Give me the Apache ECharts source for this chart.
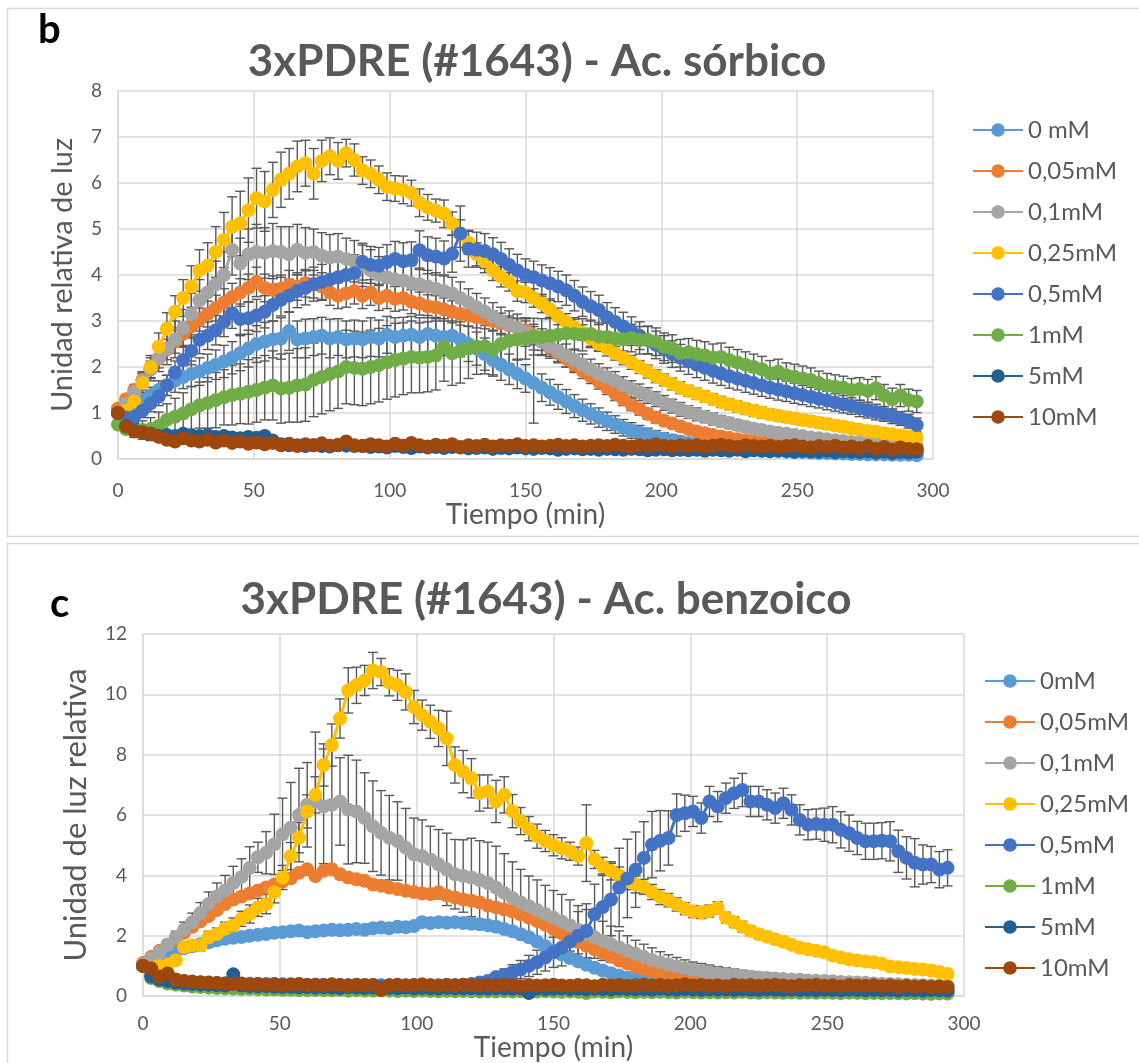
<!DOCTYPE html>
<html><head><meta charset="utf-8">
<script src="https://cdn.jsdelivr.net/npm/echarts@6/dist/echarts.min.js"></script>
<style>html,body{margin:0;padding:0;background:#fff}#c{width:1139px;height:1063px}</style>
</head><body><div id="c"></div>
<script>
const minutes = [0,3,6,9,12,15,18,21,24,27,30,33,36,39,42,45,48,51,54,57,60,63,66,69,72,75,78,81,84,87,90,93,96,99,102,105,108,111,114,117,120,123,126,129,132,135,138,141,144,147,150,153,156,159,162,165,168,171,174,177,180,183,186,189,192,195,198,201,204,207,210,213,216,219,222,225,228,231,234,237,240,243,246,249,252,255,258,261,264,267,270,273,276,279,282,285,288,291,294];
const xTicks = [0,50,100,150,200,250,300];
const sorbNames = ['0 mM','0,05mM','0,1mM','0,25mM','0,5mM','1mM','5mM','10mM'];
const benzNames = ['0mM','0,05mM','0,1mM','0,25mM','0,5mM','1mM','5mM','10mM'];
const colors = ['#5B9BD5','#ED7D31','#A5A5A5','#FFC000','#4472C4','#70AD47','#255E91','#9E480E'];

// ---- Panel b: Ac. sórbico ----
const sorb_0 = [1.0,1.1,1.2,1.28,1.38,1.5,1.6,1.7,1.78,1.85,
 1.9,1.98,2.05,2.12,2.2,2.3,2.4,2.5,2.55,2.6,
 2.62,2.78,2.6,2.62,2.65,2.68,2.62,2.65,2.6,2.62,
 2.6,2.65,2.62,2.7,2.65,2.68,2.7,2.65,2.72,2.68,
 2.65,2.68,2.6,2.5,2.4,2.28,2.15,2.05,1.95,1.85,
 1.75,1.65,1.55,1.45,1.35,1.25,1.15,1.06,0.98,0.9,
 0.82,0.75,0.68,0.62,0.57,0.52,0.48,0.44,0.41,0.38,
 0.35,0.32,0.3,0.28,0.26,0.24,0.22,0.21,0.2,0.19,
 0.18,0.17,0.16,0.15,0.15,0.14,0.13,0.13,0.12,0.12,
 0.11,0.11,0.1,0.1,0.1,0.09,0.09,0.09,0.08];
const sorb_005 = [1.1,1.3,1.5,1.72,1.95,2.18,2.38,2.55,2.72,2.88,
 3.03,3.15,3.28,3.4,3.52,3.62,3.72,3.85,3.72,3.68,
 3.7,3.78,3.75,3.82,3.8,3.75,3.62,3.55,3.6,3.65,
 3.55,3.62,3.5,3.55,3.48,3.5,3.42,3.38,3.32,3.3,
 3.25,3.2,3.15,3.12,3.08,3.05,3.0,2.95,2.9,2.85,
 2.8,2.68,2.55,2.42,2.3,2.18,2.05,1.92,1.8,1.68,
 1.55,1.42,1.3,1.18,1.08,0.98,0.9,0.83,0.77,0.71,
 0.65,0.6,0.56,0.52,0.49,0.46,0.43,0.41,0.39,0.37,
 0.35,0.34,0.33,0.32,0.31,0.3,0.29,0.28,0.27,0.27,
 0.26,0.25,0.25,0.24,0.24,0.23,0.23,0.22,0.22];
const sorb_01 = [1.0,1.2,1.45,1.7,1.95,2.2,2.4,2.6,2.85,3.15,
 3.45,3.62,3.8,4.0,4.55,4.25,4.45,4.5,4.48,4.52,
 4.5,4.45,4.55,4.48,4.5,4.42,4.38,4.4,4.35,4.3,
 4.2,4.1,4.0,3.95,3.9,3.88,3.82,3.8,3.75,3.7,
 3.65,3.6,3.5,3.4,3.3,3.2,3.1,3.0,2.92,2.85,
 2.75,2.65,2.55,2.45,2.35,2.25,2.15,2.05,1.95,1.85,
 1.78,1.7,1.6,1.52,1.45,1.38,1.3,1.22,1.15,1.08,
 1.02,0.97,0.92,0.87,0.82,0.78,0.74,0.7,0.66,0.63,
 0.6,0.57,0.55,0.52,0.5,0.47,0.45,0.43,0.41,0.39,
 0.37,0.36,0.34,0.33,0.32,0.31,0.3,0.29,0.28];
const sorb_025 = [1.0,1.05,1.25,1.65,2.0,2.44,2.83,3.2,3.5,3.75,
 4.1,4.2,4.5,4.76,5.05,5.12,5.41,5.67,5.6,5.85,
 6.07,6.2,6.36,6.43,6.2,6.48,6.58,6.48,6.65,6.5,
 6.27,6.2,6.07,5.92,5.88,5.85,5.78,5.57,5.47,5.4,
 5.33,5.12,4.9,4.7,4.45,4.3,4.1,3.96,3.85,3.65,
 3.62,3.5,3.38,3.25,3.1,2.98,2.86,2.75,2.62,2.5,
 2.4,2.3,2.2,2.1,2.0,1.9,1.8,1.72,1.63,1.55,
 1.48,1.42,1.36,1.3,1.24,1.19,1.14,1.09,1.05,1.01,
 0.97,0.94,0.91,0.88,0.85,0.82,0.79,0.76,0.73,0.7,
 0.67,0.64,0.61,0.59,0.56,0.54,0.51,0.49,0.46];
const sorb_05 = [1.0,0.9,0.92,1.05,1.21,1.36,1.6,1.88,2.15,2.35,
 2.59,2.68,2.8,2.98,3.17,3.04,3.06,3.12,3.2,3.35,
 3.46,3.55,3.65,3.72,3.8,3.85,3.9,3.95,4.0,4.04,
 4.29,4.22,4.2,4.28,4.35,4.3,4.32,4.54,4.43,4.4,
 4.36,4.46,4.9,4.57,4.55,4.52,4.45,4.35,4.22,4.1,
 4.0,3.95,3.88,3.82,3.75,3.67,3.55,3.42,3.32,3.24,
 3.08,2.98,2.88,2.78,2.68,2.58,2.48,2.38,2.28,2.2,
 2.12,2.05,1.98,1.92,1.86,1.8,1.75,1.7,1.65,1.6,
 1.55,1.51,1.47,1.43,1.39,1.35,1.31,1.27,1.23,1.19,
 1.15,1.1,1.06,1.02,0.98,0.93,0.88,0.82,0.74];
const sorb_1 = [0.75,0.65,0.62,0.63,0.65,0.72,0.85,0.92,0.99,1.08,
 1.17,1.22,1.28,1.34,1.39,1.42,1.46,1.5,1.55,1.6,
 1.53,1.55,1.6,1.62,1.72,1.78,1.85,1.9,2.0,1.98,
 1.96,2.0,2.04,2.1,2.15,2.18,2.22,2.2,2.22,2.25,
 2.44,2.3,2.35,2.4,2.44,2.45,2.38,2.5,2.57,2.6,
 2.62,2.66,2.65,2.68,2.7,2.73,2.72,2.7,2.72,2.66,
 2.65,2.62,2.6,2.63,2.58,2.59,2.55,2.44,2.4,2.3,
 2.32,2.28,2.25,2.2,2.22,2.15,2.1,2.05,2.0,1.95,
 1.86,1.9,1.82,1.79,1.75,1.72,1.65,1.6,1.57,1.55,
 1.5,1.52,1.48,1.54,1.38,1.3,1.38,1.28,1.25];
const sorb_5 = [1.0,0.72,0.62,0.58,0.55,0.5,0.52,0.5,0.55,0.52,
 0.5,0.52,0.48,0.5,0.47,0.45,0.48,0.46,0.5,0.4,
 0.32,0.3,0.3,0.28,0.3,0.28,0.27,0.3,0.29,0.28,
 0.28,0.26,0.27,0.25,0.28,0.26,0.24,0.27,0.25,0.26,
 0.24,0.26,0.25,0.23,0.24,0.25,0.22,0.24,0.23,0.25,
 0.23,0.22,0.24,0.23,0.2,0.22,0.23,0.21,0.22,0.2,
 0.22,0.21,0.2,0.22,0.21,0.19,0.2,0.21,0.19,0.2,
 0.19,0.2,0.18,0.2,0.19,0.18,0.2,0.17,0.19,0.18,
 0.17,0.19,0.18,0.16,0.18,0.17,0.16,0.18,0.15,0.17,
 0.16,0.15,0.17,0.14,0.16,0.13,0.15,0.14,0.16];
const sorb_10 = [1.0,0.7,0.6,0.58,0.55,0.48,0.42,0.38,0.45,0.4,
 0.38,0.42,0.36,0.4,0.35,0.38,0.33,0.36,0.32,0.35,
 0.3,0.33,0.28,0.32,0.3,0.34,0.29,0.31,0.38,0.3,
 0.28,0.32,0.3,0.27,0.33,0.29,0.35,0.3,0.27,0.31,
 0.29,0.32,0.26,0.3,0.28,0.31,0.27,0.3,0.29,0.32,
 0.28,0.3,0.27,0.29,0.31,0.28,0.3,0.27,0.29,0.3,
 0.28,0.31,0.29,0.27,0.3,0.28,0.32,0.29,0.27,0.3,
 0.28,0.3,0.27,0.29,0.31,0.28,0.26,0.3,0.28,0.27,
 0.29,0.26,0.28,0.3,0.27,0.25,0.28,0.26,0.29,0.25,
 0.27,0.24,0.28,0.22,0.26,0.2,0.25,0.22,0.21];

const sorbErr_0 = [0.05,0.1,0.12,0.15,0.18,0.2,0.22,0.25,0.25,0.28,
 0.3,0.3,0.32,0.35,0.35,0.38,0.4,0.4,0.42,0.4,
 0.45,0.42,0.4,0.42,0.4,0.4,0.42,0.4,0.4,0.4,
 0.4,0.42,0.4,0.4,0.42,0.4,0.4,0.42,0.4,0.4,
 0.4,0.4,0.38,0.38,0.36,0.35,0.35,0.34,0.33,0.32,
 0.3,0.87,0.3,0.28,0.27,0.26,0.25,0.24,0.22,0.21,
 0.2,0.19,0.18,0.17,0.16,0.15,0.14,0.13,0.12,0.11,
 0.1,0.1,0.09,0.09,0.08,0.08,0.07,0.07,0.06,0.06,
 0.06,0.05,0.05,0.05,0.05,0.04,0.04,0.04,0.04,0.04,
 0.03,0.03,0.03,0.03,0.03,0.03,0.03,0.03,0.03];
const sorbErr_005 = [0.05,0.1,0.12,0.15,0.18,0.2,0.22,0.25,0.25,0.25,
 0.25,0.28,0.28,0.3,0.3,0.3,0.3,0.32,0.3,0.3,
 0.3,0.32,0.3,0.3,0.3,0.3,0.28,0.28,0.3,0.28,
 0.28,0.28,0.27,0.28,0.27,0.26,0.26,0.25,0.25,0.25,
 0.25,0.24,0.24,0.23,0.23,0.22,0.22,0.22,0.21,0.21,
 0.2,0.2,0.19,0.19,0.18,0.18,0.17,0.17,0.16,0.16,
 0.15,0.15,0.14,0.13,0.13,0.12,0.12,0.11,0.1,0.1,
 0.09,0.09,0.08,0.08,0.07,0.07,0.07,0.06,0.06,0.06,
 0.05,0.05,0.05,0.05,0.05,0.04,0.04,0.04,0.04,0.04,
 0.04,0.04,0.03,0.03,0.03,0.03,0.03,0.03,0.03];
const sorbErr_01 = [0.05,0.1,0.15,0.2,0.25,0.3,0.35,0.4,0.4,0.45,
 0.45,0.5,0.5,0.5,0.55,0.55,0.55,0.6,0.55,0.6,
 0.55,0.6,0.55,0.55,0.5,0.5,0.5,0.5,0.45,0.45,
 0.45,0.45,0.4,0.4,0.4,0.4,0.4,0.35,0.35,0.35,
 0.35,0.35,0.35,0.3,0.3,0.3,0.3,0.3,0.3,0.3,
 0.3,0.28,0.28,0.26,0.26,0.25,0.24,0.23,0.22,0.22,
 0.2,0.2,0.19,0.18,0.18,0.17,0.16,0.16,0.15,0.15,
 0.14,0.14,0.13,0.13,0.12,0.12,0.11,0.11,0.1,0.1,
 0.1,0.1,0.09,0.09,0.09,0.09,0.08,0.08,0.08,0.08,
 0.08,0.07,0.07,0.07,0.07,0.07,0.07,0.07,0.07];
const sorbErr_025 = [0.05,0.1,0.15,0.2,0.25,0.3,0.35,0.35,0.4,0.45,
 0.45,0.5,0.55,0.6,0.65,0.7,0.7,0.65,0.65,0.6,
 0.6,0.55,0.55,0.5,0.55,0.45,0.4,0.4,0.3,0.35,
 0.3,0.3,0.3,0.3,0.28,0.3,0.28,0.3,0.28,0.25,
 0.3,0.25,0.3,0.25,0.25,0.25,0.22,0.22,0.2,0.22,
 0.22,0.2,0.2,0.2,0.18,0.18,0.18,0.17,0.17,0.16,
 0.16,0.15,0.15,0.15,0.14,0.14,0.14,0.13,0.13,0.13,
 0.12,0.12,0.12,0.12,0.12,0.12,0.12,0.12,0.12,0.12,
 0.11,0.11,0.11,0.11,0.11,0.11,0.11,0.11,0.11,0.11,
 0.1,0.1,0.1,0.1,0.1,0.1,0.1,0.1,0.1];
const sorbErr_05 = [0.05,0.1,0.12,0.15,0.18,0.2,0.22,0.25,0.28,0.3,
 0.3,0.3,0.32,0.32,0.33,0.33,0.35,0.35,0.35,0.35,
 0.35,0.36,0.36,0.37,0.37,0.38,0.38,0.38,0.4,0.4,
 0.4,0.4,0.4,0.38,0.38,0.4,0.4,0.42,0.4,0.4,
 0.38,0.4,0.6,0.4,0.38,0.38,0.36,0.36,0.35,0.35,
 0.35,0.35,0.34,0.34,0.33,0.33,0.33,0.32,0.32,0.32,
 0.32,0.31,0.31,0.31,0.3,0.3,0.3,0.3,0.29,0.29,
 0.28,0.28,0.27,0.27,0.26,0.26,0.25,0.25,0.24,0.24,
 0.23,0.23,0.22,0.22,0.21,0.21,0.2,0.2,0.19,0.19,
 0.18,0.18,0.17,0.17,0.16,0.16,0.15,0.15,0.15];
const sorbErr_1 = [0.05,0.1,0.15,0.2,0.25,0.3,0.35,0.4,0.45,0.5,
 0.5,0.55,0.6,0.6,0.65,0.65,0.7,0.7,0.7,0.75,
 0.75,0.75,0.8,0.8,0.8,0.8,0.8,0.8,0.8,0.8,
 0.8,0.8,0.8,0.8,0.8,0.78,0.78,0.76,0.76,0.75,
 0.75,0.7,0.7,0.65,0.6,0.6,0.55,0.5,0.5,0.45,
 0.45,0.4,0.4,0.4,0.35,0.35,0.35,0.35,0.3,0.3,
 0.3,0.3,0.3,0.3,0.3,0.3,0.3,0.3,0.3,0.3,
 0.3,0.3,0.3,0.3,0.3,0.28,0.28,0.28,0.28,0.28,
 0.28,0.27,0.27,0.27,0.27,0.26,0.26,0.26,0.26,0.25,
 0.25,0.25,0.25,0.25,0.24,0.24,0.24,0.24,0.24];

// ---- Panel c: Ac. benzoico ----
const benz_0 = [1.0,1.25,1.35,1.42,1.5,1.58,1.65,1.72,1.78,1.85,
 1.9,1.93,1.96,2.0,2.03,2.06,2.1,2.12,2.15,2.17,
 2.12,2.15,2.17,2.2,2.18,2.2,2.22,2.2,2.25,2.27,
 2.25,2.3,2.28,2.32,2.45,2.42,2.45,2.43,2.45,2.42,
 2.4,2.38,2.35,2.3,2.22,2.15,2.05,1.95,1.8,1.65,
 1.5,1.38,1.26,1.15,1.04,0.94,0.85,0.76,0.68,0.61,
 0.55,0.5,0.45,0.41,0.37,0.34,0.31,0.28,0.26,0.24,
 0.22,0.21,0.2,0.19,0.18,0.17,0.16,0.16,0.15,0.15,
 0.14,0.14,0.13,0.13,0.13,0.12,0.12,0.12,0.11,0.11,
 0.11,0.1,0.1,0.1,0.1,0.09,0.09,0.09,0.09];
const benz_005 = [1.1,1.3,1.5,1.7,1.9,2.1,2.3,2.48,2.65,2.85,
 3.05,3.2,3.3,3.4,3.5,3.6,3.7,3.8,3.9,4.09,
 4.2,3.98,4.15,4.2,4.04,3.93,3.87,3.82,3.7,3.66,
 3.6,3.55,3.49,3.45,3.4,3.38,3.44,3.33,3.27,3.2,
 3.16,3.1,3.0,2.94,2.87,2.8,2.71,2.6,2.49,2.36,
 2.22,2.08,1.94,1.8,1.67,1.55,1.43,1.3,1.18,1.08,
 0.98,0.9,0.82,0.75,0.68,0.62,0.57,0.52,0.48,0.45,
 0.42,0.4,0.38,0.36,0.34,0.33,0.32,0.31,0.3,0.29,
 0.28,0.28,0.27,0.27,0.26,0.26,0.26,0.25,0.25,0.25,
 0.24,0.24,0.24,0.23,0.23,0.23,0.22,0.22,0.22];
const benz_01 = [1.05,1.25,1.45,1.7,1.95,2.2,2.45,2.75,3.05,3.3,
 3.5,3.75,3.95,4.25,4.6,4.75,5.03,5.36,5.58,6.0,
 6.34,6.45,6.29,6.34,6.45,6.18,6.12,5.9,5.63,5.41,
 5.25,5.14,4.92,4.7,4.64,4.53,4.37,4.2,4.04,3.98,
 3.93,3.85,3.75,3.6,3.42,3.25,3.1,2.98,2.85,2.72,
 2.6,2.47,2.34,2.2,2.07,1.95,1.83,1.72,1.61,1.5,
 1.4,1.3,1.2,1.12,1.05,0.98,0.92,0.87,0.83,0.79,
 0.76,0.73,0.7,0.67,0.64,0.62,0.6,0.58,0.57,0.55,
 0.54,0.52,0.51,0.5,0.49,0.47,0.46,0.45,0.44,0.42,
 0.41,0.4,0.39,0.38,0.37,0.36,0.35,0.34,0.33];
const benz_025 = [1.0,0.95,1.0,1.05,1.19,1.62,1.68,1.68,1.95,2.06,
 2.23,2.34,2.56,2.72,2.94,3.05,3.44,3.93,4.64,5.25,
 6.12,6.67,7.66,8.32,9.2,10.13,10.3,10.46,10.79,10.74,
 10.4,10.3,10.08,9.58,9.31,9.09,8.87,8.54,7.66,7.44,
 7.22,6.73,6.78,6.45,6.67,6.13,5.8,5.55,5.3,5.14,
 5.0,4.9,4.8,4.64,5.07,4.53,4.3,4.15,4.0,3.81,
 3.7,3.62,3.45,3.28,3.18,3.04,2.9,2.8,2.77,2.82,
 2.93,2.6,2.45,2.3,2.16,2.05,1.97,1.88,1.8,1.7,
 1.6,1.55,1.5,1.45,1.34,1.28,1.22,1.18,1.15,1.12,
 1.07,0.98,0.96,0.93,0.9,0.88,0.85,0.8,0.73];
const benz_05 = [1.0,0.7,0.6,0.55,0.5,0.48,0.46,0.45,0.44,0.43,
 0.42,0.42,0.41,0.41,0.4,0.4,0.4,0.39,0.39,0.39,
 0.38,0.38,0.38,0.38,0.37,0.37,0.37,0.37,0.37,0.36,
 0.36,0.36,0.36,0.36,0.36,0.36,0.36,0.37,0.37,0.38,
 0.4,0.45,0.5,0.63,0.7,0.79,0.88,1.0,1.12,1.28,
 1.45,1.6,1.8,2.0,2.16,2.71,2.95,3.2,3.6,3.9,
 4.19,4.58,5.02,5.15,5.24,6.0,6.06,6.12,5.9,6.45,
 6.28,6.56,6.72,6.83,6.45,6.45,6.34,6.23,6.39,6.17,
 5.84,5.68,5.7,5.68,5.68,5.51,5.4,5.24,5.13,5.13,
 5.15,5.13,4.8,4.58,4.42,4.36,4.36,4.19,4.25];
const benz_1 = [1.0,0.6,0.5,0.42,0.38,0.35,0.32,0.3,0.28,0.27,
 0.26,0.25,0.24,0.24,0.23,0.22,0.22,0.21,0.21,0.2,
 0.2,0.2,0.19,0.19,0.2,0.18,0.19,0.18,0.18,0.19,
 0.18,0.17,0.18,0.17,0.18,0.17,0.16,0.17,0.16,0.17,
 0.16,0.15,0.16,0.15,0.16,0.15,0.16,0.14,0.15,0.16,
 0.15,0.14,0.15,0.14,0.1,0.15,0.14,0.13,0.15,0.14,
 0.13,0.14,0.13,0.14,0.13,0.12,0.14,0.13,0.12,0.13,
 0.12,0.13,0.12,0.14,0.12,0.11,0.13,0.12,0.11,0.12,
 0.11,0.12,0.11,0.12,0.11,0.1,0.12,0.11,0.1,0.11,
 0.1,0.11,0.1,0.09,0.1,0.09,0.08,0.1,0.09];
const benz_5 = [1.0,0.65,0.55,0.5,0.45,0.42,0.4,0.38,0.38,0.36,
 0.35,0.72,0.35,0.33,0.32,0.33,0.31,0.3,0.31,0.29,
 0.3,0.28,0.29,0.28,0.27,0.29,0.28,0.27,0.28,0.26,
 0.27,0.26,0.28,0.25,0.27,0.26,0.25,0.27,0.26,0.25,
 0.26,0.25,0.24,0.26,0.25,0.24,0.25,0.1,0.25,0.23,
 0.24,0.25,0.23,0.24,0.22,0.24,0.23,0.22,0.24,0.23,
 0.22,0.23,0.21,0.24,0.22,0.21,0.23,0.22,0.2,0.22,
 0.21,0.22,0.2,0.22,0.21,0.2,0.22,0.21,0.2,0.21,
 0.2,0.21,0.19,0.21,0.2,0.19,0.21,0.2,0.19,0.2,
 0.19,0.2,0.18,0.2,0.19,0.18,0.2,0.19,0.18];
const benz_10 = [1.0,0.92,0.65,0.75,0.55,0.5,0.48,0.46,0.45,0.43,
 0.42,0.4,0.42,0.38,0.4,0.37,0.39,0.36,0.38,0.4,
 0.36,0.38,0.35,0.39,0.37,0.34,0.38,0.36,0.37,0.2,
 0.36,0.38,0.35,0.37,0.39,0.36,0.34,0.37,0.35,0.38,
 0.36,0.34,0.37,0.35,0.38,0.36,0.33,0.37,0.35,0.36,
 0.38,0.35,0.34,0.37,0.36,0.33,0.38,0.35,0.37,0.34,
 0.36,0.38,0.35,0.37,0.34,0.36,0.39,0.35,0.37,0.34,
 0.36,0.33,0.38,0.35,0.37,0.34,0.36,0.38,0.35,0.33,
 0.37,0.35,0.38,0.34,0.36,0.33,0.37,0.35,0.34,0.36,
 0.33,0.35,0.32,0.34,0.31,0.33,0.3,0.32,0.3];

const benzErr_01 = [0.05,0.08,0.1,0.15,0.2,0.25,0.3,0.35,0.4,0.45,
 0.5,0.55,0.6,0.7,0.5,0.7,1.0,1.2,1.5,1.55,
 1.4,2.3,1.9,2.0,1.45,1.8,1.7,1.5,1.5,1.4,
 1.4,1.3,1.3,1.2,1.2,1.1,1.15,1.2,1.15,1.2,
 1.3,1.3,1.35,1.37,1.3,1.2,1.1,1.0,1.0,0.95,
 0.9,0.9,0.85,0.8,0.8,0.7,0.65,0.6,0.55,0.5,
 0.45,0.42,0.4,0.35,0.32,0.3,0.28,0.26,0.25,0.24,
 0.22,0.21,0.2,0.19,0.18,0.17,0.16,0.15,0.14,0.13,
 0.12,0.12,0.11,0.11,0.1,0.1,0.1,0.1,0.09,0.09,
 0.09,0.09,0.09,0.09,0.09,0.09,0.09,0.09,0.09];
const benzErr_025 = [0.05,0.05,0.08,0.1,0.12,0.15,0.15,0.18,0.2,0.2,
 0.22,0.25,0.25,0.3,0.3,0.32,0.35,0.4,0.45,0.5,
 0.55,0.6,0.7,0.7,0.65,0.75,0.6,0.5,0.6,0.45,
 0.45,0.5,0.6,0.55,0.5,0.55,0.6,0.9,0.6,0.7,
 0.65,0.6,0.55,0.7,0.6,0.55,0.45,0.4,0.4,0.35,
 0.35,0.35,0.3,0.3,1.27,0.3,0.3,0.3,0.28,0.28,
 0.28,0.25,0.25,0.25,0.22,0.22,0.2,0.2,0.2,0.2,
 0.2,0.18,0.18,0.18,0.16,0.16,0.15,0.15,0.15,0.14,
 0.14,0.13,0.13,0.12,0.12,0.12,0.11,0.11,0.1,0.1,
 0.1,0.1,0.1,0.09,0.09,0.09,0.08,0.08,0.08];
const benzErr_05 = [0.05,0.05,0.05,0.05,0.05,0.05,0.05,0.05,0.05,0.05,
 0.05,0.05,0.05,0.05,0.05,0.05,0.05,0.05,0.05,0.05,
 0.05,0.05,0.05,0.05,0.05,0.05,0.05,0.05,0.05,0.05,
 0.05,0.05,0.05,0.05,0.05,0.05,0.05,0.05,0.05,0.06,
 0.08,0.1,0.12,0.15,0.2,0.25,0.3,0.35,0.4,0.45,
 0.5,0.6,0.7,0.8,0.9,1.0,1.1,1.2,1.3,1.3,
 1.25,1.2,1.1,1.0,0.9,0.7,0.6,0.5,0.5,0.5,
 0.5,0.5,0.5,0.55,0.5,0.5,0.5,0.5,0.5,0.5,
 0.5,0.5,0.5,0.55,0.6,0.6,0.6,0.55,0.6,0.6,
 0.6,0.65,0.7,0.7,0.8,0.65,0.6,0.6,0.6];

const sorbValues = [sorb_0, sorb_005, sorb_01, sorb_025, sorb_05, sorb_1, sorb_5, sorb_10];
const sorbErrors = [sorbErr_0, sorbErr_005, sorbErr_01, sorbErr_025, sorbErr_05, sorbErr_1, null, null];
const benzValues = [benz_0, benz_005, benz_01, benz_025, benz_05, benz_1, benz_5, benz_10];
const benzErrors = [null, null, benzErr_01, benzErr_025, benzErr_05, null, null, null];

const FONT = 'Lato';
const GRAY = '#595959';
const GRID = '#d9d9d9';

function errRender(params, api) {
  const t = api.value(0), v = api.value(1), e = api.value(2);
  const top = api.coord([t, v + e]);
  const bot = api.coord([t, v - e]);
  const w = 5;
  const st = { stroke: GRAY, lineWidth: 1.4 };
  return { type: 'group', children: [
    { type: 'line', shape: { x1: top[0], y1: top[1], x2: bot[0], y2: bot[1] }, style: st },
    { type: 'line', shape: { x1: top[0] - w, y1: top[1], x2: top[0] + w, y2: top[1] }, style: st },
    { type: 'line', shape: { x1: bot[0] - w, y1: bot[1], x2: bot[0] + w, y2: bot[1] }, style: st }
  ]};
}

const series = [];
function addPanel(names, values, errors, axisIdx) {
  for (let i = 0; i < names.length; i++) {
    if (errors[i]) {
      series.push({
        type: 'custom', name: 'err ' + names[i], xAxisIndex: axisIdx, yAxisIndex: axisIdx,
        renderItem: errRender, clip: true, silent: true,
        encode: { x: 0, y: 1 },
        data: minutes.map((t, k) => [t, values[i][k], errors[i][k]])
      });
    }
    series.push({
      type: 'line', name: names[i], xAxisIndex: axisIdx, yAxisIndex: axisIdx,
      data: minutes.map((t, k) => [t, values[i][k]]),
      symbol: 'circle', symbolSize: 14, showSymbol: true,
      itemStyle: { color: colors[i] },
      lineStyle: { color: colors[i], width: 3 },
      animation: false
    });
  }
}
addPanel(sorbNames, sorbValues, sorbErrors, 0);
addPanel(benzNames, benzValues, benzErrors, 1);

function xAxisCfg(gridIndex, nameGap, labelMargin) {
  return {
    type: 'value', gridIndex, min: 0, max: 300, interval: 50,
    name: 'Tiempo (min)', nameLocation: 'middle', nameGap,
    nameTextStyle: { fontFamily: FONT, fontSize: 28, color: GRAY },
    axisLine: { show: true, lineStyle: { color: GRID, width: 1.5 } },
    axisTick: { show: false },
    axisLabel: { fontFamily: FONT, fontSize: 19, color: GRAY, margin: labelMargin },
    splitLine: { show: true, lineStyle: { color: GRID, width: 1.5 } }
  };
}
function yAxisCfg(gridIndex, name, max, interval, nameGap, nameSize) {
  return {
    type: 'value', gridIndex, min: 0, max, interval,
    name, nameLocation: 'middle', nameGap, nameRotate: 90,
    nameTextStyle: { fontFamily: FONT, fontSize: nameSize, color: GRAY },
    axisLine: { show: true, lineStyle: { color: GRID, width: 1.5 } },
    axisTick: { show: false },
    axisLabel: { fontFamily: FONT, fontSize: 19, color: GRAY, margin: 16 },
    splitLine: { show: true, lineStyle: { color: GRID, width: 1.5 } }
  };
}

const legendCommon = {
  orient: 'vertical', itemWidth: 50, itemHeight: 17, itemGap: 15,
  textStyle: { fontFamily: FONT, fontSize: 24, color: GRAY, lineHeight: 26 },
  selectedMode: false
};

const option = {
  backgroundColor: '#fff',
  animation: false,
  graphic: [
    { type: 'rect', shape: { x: 7.5, y: 8.5, width: 1140, height: 528 }, style: { fill: 'none', stroke: GRID, lineWidth: 1.5 }, z: -10 },
    { type: 'rect', shape: { x: 7.5, y: 543.5, width: 1140, height: 530 }, style: { fill: 'none', stroke: GRID, lineWidth: 1.5 }, z: -10 },
    { type: 'text', x: 38, y: 30, style: { text: 'b', font: 'bold 40px Lato', fill: '#000', textVerticalAlign: 'middle' } },
    { type: 'text', x: 537, y: 62, style: { text: '3xPDRE (#1643) - Ac. sórbico', font: 'bold 44px Lato', fill: GRAY, textAlign: 'center', textVerticalAlign: 'middle' } },
    { type: 'text', x: 50, y: 604, style: { text: 'c', font: 'bold 40px Lato', fill: '#000', textVerticalAlign: 'middle' } },
    { type: 'text', x: 546, y: 600, style: { text: '3xPDRE (#1643) - Ac. benzoico', font: 'bold 44px Lato', fill: GRAY, textAlign: 'center', textVerticalAlign: 'middle' } }
  ],
  grid: [
    { left: 118, top: 91, width: 815, height: 368 },
    { left: 143, top: 634, width: 821, height: 365 }
  ],
  xAxis: [ xAxisCfg(0, 41, 22), xAxisCfg(1, 33, 18) ],
  yAxis: [ yAxisCfg(0, 'Unidad relativa de luz', 8, 1, 41, 29), yAxisCfg(1, 'Unidad de luz relativa', 12, 2, 52, 31) ],
  legend: [
    Object.assign({}, legendCommon, { left: 967, top: 112, data: sorbNames.slice() }),
    Object.assign({}, legendCommon, { left: 979, top: 663, data: benzNames.slice() })
  ],
  series
};

const chart = echarts.init(document.getElementById('c'), null, { renderer: 'canvas' });
chart.setOption(option);
</script>
</body></html>
